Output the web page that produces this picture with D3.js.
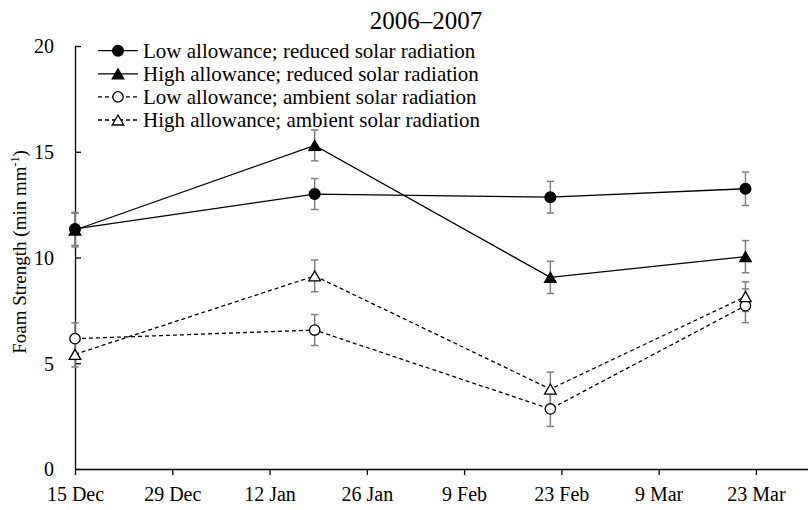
<!DOCTYPE html>
<html>
<head>
<meta charset="utf-8">
<script src="https://cdn.jsdelivr.net/npm/d3@7"></script>
<style>
  html, body { margin: 0; padding: 0; background: #fff; }
  svg text { font-family: "Liberation Serif", "Times New Roman", serif; fill: #000; }
</style>
</head>
<body>
<svg id="chart" width="808" height="510"></svg>
<script>
// Sampling dates (2006–2007 season)
const sampleDates = ["2006-12-15", "2007-01-18T12:00", "2007-02-21T10:00", "2007-03-21T12:00"];

// Series names (legend order)
const seriesNames = [
  "Low allowance; reduced solar radiation",
  "High allowance; reduced solar radiation",
  "Low allowance; ambient solar radiation",
  "High allowance; ambient solar radiation"
];

// Foam strength means (min mm⁻¹)
const lowReduced   = [11.35, 13.0, 12.85, 13.25];
const highReduced  = [11.3, 15.3, 9.06, 10.04];
const lowAmbient   = [6.16, 6.57, 2.84, 7.72];
const highAmbient  = [5.42, 9.13, 3.78, 8.15];

// Standard errors
const lowReducedErr  = [0.78, 0.73, 0.75, 0.79];
const highReducedErr = [0.8, 0.73, 0.76, 0.76];
const lowAmbientErr  = [0.75, 0.73, 0.83, 0.8];
const highAmbientErr = [0.6, 0.75, 0.8, 0.7];

// Axis ticks
const xTickDates = ["2006-12-15", "2006-12-29", "2007-01-12", "2007-01-26", "2007-02-09", "2007-02-23", "2007-03-09", "2007-03-23"];
const yTicks = [0, 5, 10, 15, 20];

const parse = s => new Date(s.length > 10 ? s : s + "T00:00");
const dates = sampleDates.map(parse);

const series = [
  { name: seriesNames[0], values: lowReduced,  err: lowReducedErr,  shape: "circle",   filled: true,  dashed: false },
  { name: seriesNames[1], values: highReduced, err: highReducedErr, shape: "triangle", filled: true,  dashed: false },
  { name: seriesNames[2], values: lowAmbient,  err: lowAmbientErr,  shape: "circle",   filled: false, dashed: true },
  { name: seriesNames[3], values: highAmbient, err: highAmbientErr, shape: "triangle", filled: false, dashed: true }
];

const svg = d3.select("#chart");
const plotLeft = 75, plotRight = 808, plotTop = 46, plotBottom = 469;

const start = parse("2006-12-15");
const end = new Date(start.getTime() + 105.5 * 86400000);
const x = d3.scaleTime().domain([start, end]).range([plotLeft, plotRight]);
const y = d3.scaleLinear().domain([0, 20]).range([plotBottom, plotTop]);

// Title
svg.append("text")
  .attr("x", 426).attr("y", 28.5)
  .attr("text-anchor", "middle")
  .style("font-size", "25px")
  .text("2006–2007");

// Y axis
const yAxis = svg.append("g")
  .attr("transform", `translate(${plotLeft},0)`)
  .call(d3.axisLeft(y).tickValues(yTicks).tickSize(-6).tickSizeOuter(0).tickPadding(21));
yAxis.select(".domain").attr("stroke", "#000").attr("stroke-width", 1.3);
yAxis.selectAll(".tick line").attr("stroke", "#000").attr("stroke-width", 1.3);
yAxis.selectAll("text").style("font-size", "20px").attr("dy", "0.34em");

// X axis
const xAxis = svg.append("g")
  .attr("transform", `translate(0,${plotBottom})`)
  .call(d3.axisBottom(x).tickValues(xTickDates.map(parse)).tickFormat(d3.timeFormat("%-d %b"))
    .tickSize(6).tickSizeOuter(0).tickPadding(12));
xAxis.select(".domain").attr("stroke", "#000").attr("stroke-width", 1.3);
xAxis.selectAll(".tick line").attr("stroke", "#000").attr("stroke-width", 1.3);
xAxis.selectAll("text").style("font-size", "20px");

// Y axis title
const yTitle = svg.append("text")
  .attr("transform", "translate(26,252) rotate(-90)")
  .attr("text-anchor", "middle")
  .style("font-size", "19px");
yTitle.append("tspan").text("Foam Strength (min mm");
yTitle.append("tspan").attr("baseline-shift", "super").style("font-size", "12px").text("-1");
yTitle.append("tspan").text(")");

// Marker factory
const triSize = 58;
const triOffset = Math.sqrt(triSize / (Math.sqrt(3) * 3)) / 2;
function drawMarker(g, s, cx, cy) {
  const fill = s.filled ? "#000" : "#fff";
  if (s.shape === "circle") {
    g.append("circle").attr("cx", cx).attr("cy", cy).attr("r", s.filled ? 5.4 : 5.2)
      .attr("fill", fill).attr("stroke", "#000").attr("stroke-width", 1.3);
  } else {
    g.append("path")
      .attr("d", d3.symbol().type(d3.symbolTriangle).size(triSize)())
      .attr("transform", `translate(${cx},${cy + triOffset})`)
      .attr("fill", fill).attr("stroke", "#000").attr("stroke-width", 1.3);
  }
}

// Error bars
const errG = svg.append("g");
series.forEach(s => {
  s.values.forEach((v, i) => {
    const cx = x(dates[i]);
    const y0 = y(v - s.err[i]), y1 = y(v + s.err[i]);
    errG.append("line").attr("x1", cx).attr("x2", cx).attr("y1", y0).attr("y2", y1)
      .attr("stroke", "#808080").attr("stroke-width", 1.5);
    [y0, y1].forEach(yy => errG.append("line")
      .attr("x1", cx - 3.7).attr("x2", cx + 3.7).attr("y1", yy).attr("y2", yy)
      .attr("stroke", "#808080").attr("stroke-width", 1.5));
  });
});

// Lines
const line = d3.line().x((d, i) => x(dates[i])).y(d => y(d));
series.forEach(s => {
  svg.append("path")
    .attr("d", line(s.values))
    .attr("fill", "none")
    .attr("stroke", "#000")
    .attr("stroke-width", 1.3)
    .attr("stroke-dasharray", s.dashed ? "4,3" : null);
});

// Markers (filled triangle below filled circle, open circle below open triangle)
const markG = svg.append("g");
[series[1], series[0], series[2], series[3]].forEach(s => {
  s.values.forEach((v, i) => drawMarker(markG, s, x(dates[i]), y(v)));
});

// Legend
const legend = svg.append("g");
series.forEach((s, i) => {
  const ly = 50.7 + i * 23.1;
  legend.append("line").attr("x1", 98).attr("x2", 138).attr("y1", ly).attr("y2", ly)
    .attr("stroke", "#000").attr("stroke-width", 1.3)
    .attr("stroke-dasharray", s.dashed ? "4,3" : null);
  drawMarker(legend, s, 118, ly);
  legend.append("text").attr("x", 143).attr("y", ly + 7)
    .style("font-size", "21px").text(s.name);
});
</script>
</body>
</html>
